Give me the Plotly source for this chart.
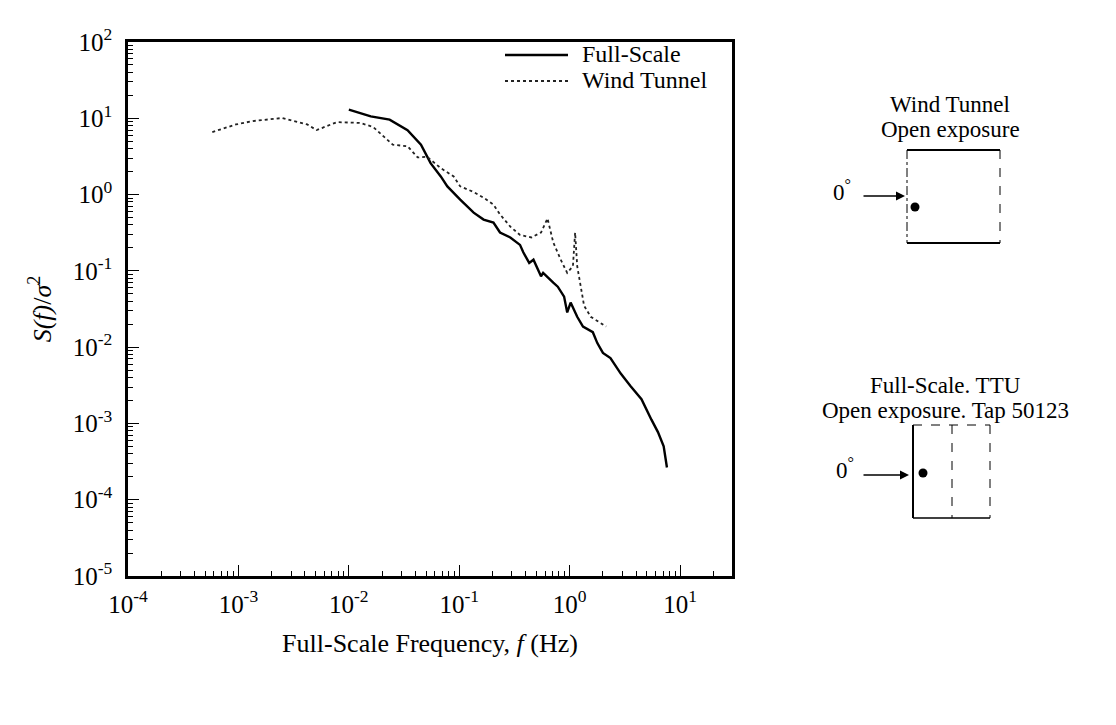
import plotly.graph_objects as go

# ---------------- data ----------------
wt_freq = [5.8e-4, 9.5e-4, 1.35e-3, 2.5e-3, 4.2e-3, 5.1e-3, 7.8e-3, 0.0126, 0.0166,
           0.0204, 0.025, 0.034, 0.042, 0.051, 0.068, 0.089, 0.102, 0.135, 0.166,
           0.204, 0.234, 0.29, 0.355, 0.45, 0.55, 0.63, 0.71, 0.83, 0.95, 1.07,
           1.12, 1.17, 1.26, 1.35, 1.55, 1.9, 2.14]
wt_spec = [6.6, 8.3, 9.2, 10.1, 8.3, 7.0, 8.9, 8.7, 7.7,
           5.9, 4.5, 4.3, 3.07, 3.14, 2.22, 1.73, 1.28, 1.08, 0.91,
           0.74, 0.55, 0.38, 0.295, 0.274, 0.318, 0.486, 0.236, 0.14, 0.094, 0.115,
           0.318, 0.115, 0.062, 0.035, 0.025, 0.021, 0.0186]

fs_freq = [0.01, 0.0158, 0.0234, 0.034, 0.045, 0.055, 0.068, 0.078, 0.102, 0.135,
           0.166, 0.204, 0.234, 0.29, 0.355, 0.38, 0.43, 0.47, 0.55, 0.575,
           0.71, 0.78, 0.89, 0.95, 1.02, 1.17, 1.32, 1.62, 1.78, 2.0,
           2.34, 2.9, 3.55, 4.47, 5.5, 6.3, 7.1, 7.4, 7.6]
fs_spec = [13.0, 10.6, 9.6, 7.0, 4.5, 2.58, 1.73, 1.28, 0.86, 0.58,
           0.47, 0.43, 0.318, 0.274, 0.219, 0.175, 0.127, 0.14, 0.085, 0.094,
           0.07, 0.062, 0.046, 0.0285, 0.0384, 0.025, 0.0186, 0.0157, 0.0113, 0.0084,
           0.0072, 0.0045, 0.0031, 0.00208, 0.00112, 0.00077, 0.0005, 0.00034, 0.000264]

series_names = ["Full-Scale", "Wind Tunnel"]

x_exponents = [-4, -3, -2, -1, 0, 1]
y_exponents = [-5, -4, -3, -2, -1, 0, 1, 2]

# ---------------- geometry ----------------
W, H = 1116, 725
L, R, T, B = 128, 732, 42, 576
FONT = "Liberation Serif"


def px(x):
    return (x - L) / (R - L)


def py(y):
    return (B - y) / (B - T)


fig = go.Figure()
fig.add_trace(go.Scatter(x=fs_freq, y=fs_spec, mode="lines", name=series_names[0],
                         line=dict(color="black", width=2.4), showlegend=False))
fig.add_trace(go.Scatter(x=wt_freq, y=wt_spec, mode="lines", name=series_names[1],
                         line=dict(color="#222", width=1.8, dash="dot"), showlegend=False))


def axis_cfg(exps, rng, title, standoff, lab_standoff):
    lo = int(rng[0])
    return dict(type="log", range=rng,
                tickmode="array",
                tickvals=[10.0 ** e for e in exps],
                ticktext=["10<sup>%d</sup>" % e for e in exps],
                showline=True, linecolor="black", linewidth=2.5, mirror=True,
                ticks="inside", ticklen=11, tickwidth=1.2, tickcolor="black",
                ticklabelstandoff=lab_standoff,
                showgrid=False, zeroline=False,
                minor=dict(ticks="inside", ticklen=5, tickcolor="black",
                           tickmode="array",
                           tickvals=[k * 10.0 ** e for e in range(lo, 2) for k in range(2, 10)],
                           showgrid=False),
                tickfont=dict(family=FONT, size=25, color="black"),
                title=dict(text=title, font=dict(family=FONT, size=26), standoff=standoff))


fig.update_layout(
    width=W, height=H,
    margin=dict(l=L, r=W - R, t=T, b=H - B),
    paper_bgcolor="white", plot_bgcolor="white",
    font=dict(family=FONT, color="black"),
    xaxis=axis_cfg(x_exponents, [-4, 1.47], "Full-Scale Frequency, <i>f</i> (Hz)", 18, 4),
    yaxis=axis_cfg(y_exponents, [-5, 2], "<i>S(f)</i>/<i>σ</i><sup>2</sup>", 14, 8),
    showlegend=False,
)

shapes = []
ann = []


def line(x0, y0, x1, y1, width=1.5, dash="solid", color="black"):
    shapes.append(dict(type="line", xref="paper", yref="paper",
                       x0=px(x0), y0=py(y0), x1=px(x1), y1=py(y1),
                       line=dict(color=color, width=width, dash=dash)))


def dot(cx, cy, r=4.5):
    shapes.append(dict(type="circle", xref="paper", yref="paper",
                       x0=px(cx - r), x1=px(cx + r), y0=py(cy - r), y1=py(cy + r),
                       fillcolor="black", line=dict(color="black", width=0)))


def text(x, y, s, size=23, anchor="center"):
    ann.append(dict(xref="paper", yref="paper", x=px(x), y=py(y), text=s,
                    showarrow=False, xanchor=anchor, yanchor="middle",
                    font=dict(family=FONT, size=size, color="black")))


def arrow(x0, x1, y):
    ann.append(dict(xref="paper", yref="paper", x=px(x1), y=py(y), text="",
                    showarrow=True, axref="pixel", ayref="pixel",
                    ax=-(x1 - x0), ay=0, arrowhead=2, arrowsize=1.2,
                    arrowwidth=1.5, arrowcolor="black"))


# legend (drawn inside the frame, top right)
line(505, 55, 568, 55, 2.4)
line(505, 81, 568, 81, 1.8, "dot", "#222")
text(580, 54, series_names[0], 24, "left")
text(580, 80, series_names[1], 24, "left")

# Wind tunnel diagram
text(950, 105, "Wind Tunnel", 23)
text(950, 130, "Open exposure", 23)
line(907, 150, 1000, 150, 2)
line(907, 243, 1000, 243, 2)
line(907, 150, 907, 243, 1, "dashdot")
line(1000, 150, 1000, 243, 1, "dash")
dot(915, 207)
arrow(862, 905, 196)
text(842, 190, "0<sup>°</sup>", 23)

# Full-scale diagram
text(945, 385, "Full-Scale. TTU", 23)
text(945, 410, "Open exposure. Tap 50123", 23)
line(913, 425, 990, 425, 1, "dash")
line(913, 518, 990, 518, 1.5)
line(913, 425, 913, 518, 2)
line(990, 425, 990, 518, 1, "dash")
line(952, 425, 952, 518, 1, "dash")
dot(923, 473)
arrow(862, 909, 475)
text(845, 468, "0<sup>°</sup>", 23)

fig.update_layout(shapes=shapes, annotations=ann)
fig.write_html("out.html")
